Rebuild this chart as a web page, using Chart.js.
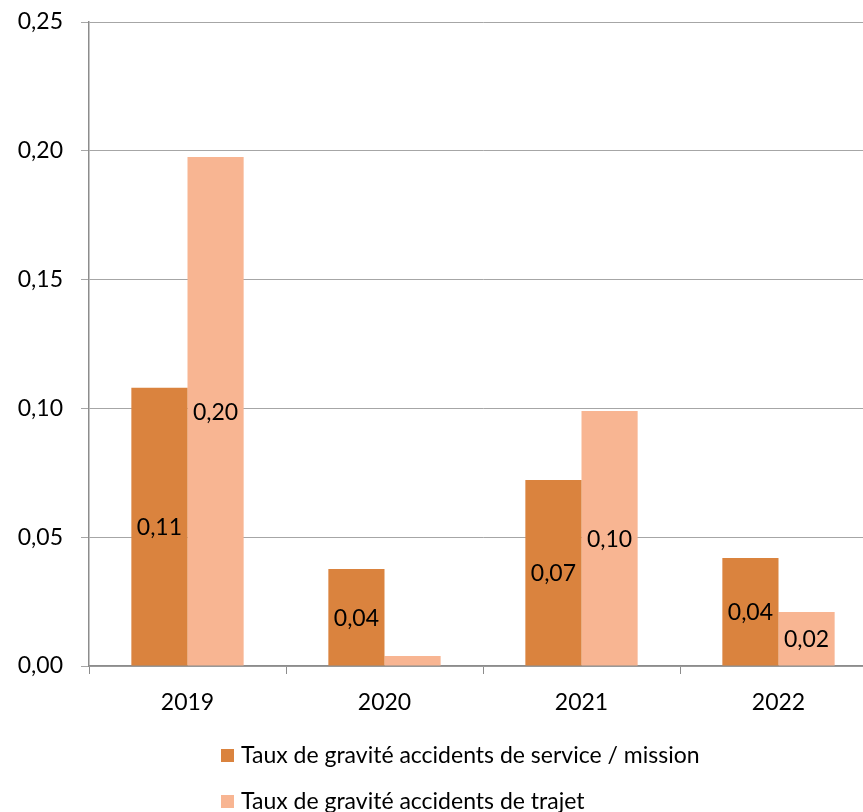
<!DOCTYPE html>
<html>
<head>
<meta charset="utf-8">
<script src="https://cdn.jsdelivr.net/npm/chart.js@4/dist/chart.umd.min.js"></script>
<style>
html,body{margin:0;padding:0;background:#fff;overflow:hidden;}
#wrap{position:relative;width:878px;height:812px;}
</style>
</head>
<body>
<div id="wrap"><canvas id="c"></canvas></div>
<script>
const categories = ['2019', '2020', '2021', '2022'];
const serviceValues = [0.108, 0.0377, 0.0722, 0.0419];
const trajetValues = [0.1976, 0.0039, 0.099, 0.021];
const seriesNames = ['Taux de gravité accidents de service / mission', 'Taux de gravité accidents de trajet'];
const yTicks = [0, 0.05, 0.10, 0.15, 0.20, 0.25];

const FONT = 'Lato, "Open Sans", sans-serif';
const FS = 23;
const fmt = v => v.toFixed(2).replace('.', ',');

const labelPlugin = {
  id: 'centerLabels',
  afterDatasetsDraw(chart) {
    const ctx = chart.ctx;
    ctx.save();
    ctx.font = FS + 'px ' + FONT;
    ctx.fillStyle = '#000';
    ctx.textAlign = 'center';
    ctx.textBaseline = 'middle';
    chart.data.datasets.forEach((ds, i) => {
      chart.getDatasetMeta(i).data.forEach((bar, j) => {
        const v = ds.data[j];
        if (v < 0.005) return;
        const y = (bar.y + bar.base) / 2;
        ctx.fillText(fmt(v), bar.x, y + 1);
      });
    });
    ctx.restore();
  }
};

const legendPlugin = {
  id: 'stackLegend',
  afterDraw(chart) {
    const ctx = chart.ctx;
    ctx.save();
    ctx.font = FS + 'px ' + FONT;
    ctx.textBaseline = 'middle';
    ctx.textAlign = 'left';
    const rows = [755, 801];
    chart.data.datasets.forEach((ds, i) => {
      ctx.fillStyle = ds.backgroundColor;
      ctx.fillRect(221, rows[i] - 6, 13, 13);
      ctx.fillStyle = '#000';
      ctx.fillText(ds.label, 241, rows[i] + 1);
    });
    ctx.restore();
  }
};

new Chart(document.getElementById('c'), {
  type: 'bar',
  data: {
    labels: categories,
    datasets: [
      { label: seriesNames[0], data: serviceValues, backgroundColor: '#DA833E', categoryPercentage: 0.57, barPercentage: 1.0 },
      { label: seriesNames[1], data: trajetValues, backgroundColor: '#F8B592', categoryPercentage: 0.57, barPercentage: 1.0 }
    ]
  },
  options: {
    responsive: true,
    maintainAspectRatio: false,
    animation: false,
    layout: { padding: { top: 22, right: 1, left: 0, bottom: 0 } },
    plugins: { legend: { display: false }, tooltip: { enabled: false } },
    scales: {
      x: {
        grid: { display: true, drawOnChartArea: false, drawTicks: true, tickLength: 8, color: '#8C8C8C', offset: true },
        border: { display: true, color: '#8C8C8C', width: 1.5 },
        ticks: { font: { family: FONT, size: FS }, color: '#000', padding: 15 },
        afterFit(scale) { scale.height = 146; scale.paddingLeft = 0; scale.paddingRight = 0; }
      },
      y: {
        min: 0, max: 0.25,
        afterBuildTicks(scale) { scale.ticks = yTicks.map(v => ({ value: v })); },
        grid: { color: '#A6A6A6', tickLength: 8, lineWidth: 1 },
        border: { display: true, color: '#8C8C8C', width: 1.5 },
        ticks: { font: { family: FONT, size: FS }, color: '#000', padding: 18, callback: v => fmt(v) },
        afterFit(scale) { scale.width = 89; scale.paddingTop = 0; scale.paddingBottom = 0; }
      }
    }
  },
  plugins: [labelPlugin, legendPlugin]
});
</script>
</body>
</html>
